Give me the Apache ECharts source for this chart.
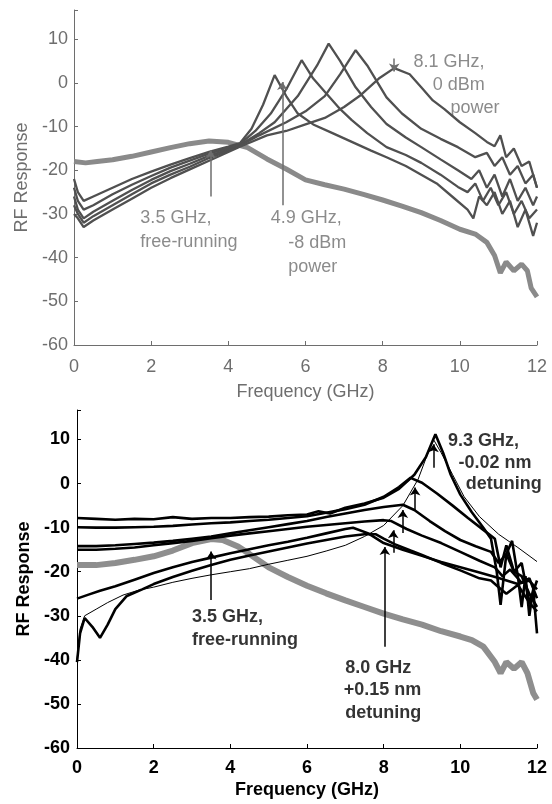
<!DOCTYPE html>
<html>
<head>
<meta charset="utf-8">
<script src="https://cdn.jsdelivr.net/npm/echarts@6/dist/echarts.min.js"></script>
<style>html,body{margin:0;background:#fff}#main{width:552px;height:804px}</style>
</head>
<body>
<div id="main"></div>
<script>
// x ticks (GHz) and y ticks, shared by both panels
var freqTicks = [0, 2, 4, 6, 8, 10, 12];
var respTicks = [-60, -50, -40, -30, -20, -10, 0, 10];

// ---- top panel: injection power sweep ----
var topFree = [[0,-18],[0.3,-18.3],[0.6,-18],[1,-17.6],[1.5,-16.8],[2,-15.8],[2.5,-14.8],[3,-13.9],[3.5,-13.3],[4,-13.6],[4.5,-14.8],[5,-17.4],[5.5,-19.7],[6,-22.2],[6.5,-23.3],[7,-24.3],[7.5,-25.5],[8,-26.8],[8.5,-28.2],[9,-29.7],[9.5,-31.5],[10,-33.5],[10.4,-34.6],[10.7,-36.5],[10.9,-39.5],[11.05,-43.5],[11.2,-41],[11.4,-43],[11.6,-41.5],[11.75,-43],[11.85,-47],[12,-49]];
var topP1 = [[0,-22],[0.1,-25],[0.25,-27],[0.5,-26],[1,-24],[1.5,-22],[2,-20.3],[2.5,-18.7],[3,-17.2],[3.5,-15.8],[4,-14.6],[4.3,-13.8],[4.6,-10.5],[4.9,-5],[5.2,1.8],[5.5,-3],[5.8,-7],[6.2,-9.5],[6.7,-11.5],[7.2,-13.5],[7.7,-15.5],[8.1,-17],[8.6,-19],[9,-21],[9.4,-23],[9.8,-26],[10.2,-29],[10.35,-31],[10.5,-26],[10.7,-28],[10.9,-25],[11.1,-30],[11.3,-27],[11.5,-33],[11.7,-29],[11.9,-35],[12,-32]];
var topP2 = [[0,-24],[0.1,-27],[0.25,-29],[0.5,-28],[1,-25.5],[1.5,-23.3],[2,-21.3],[2.5,-19.4],[3,-17.8],[3.5,-16.2],[4,-14.9],[4.3,-14],[4.7,-11],[5.1,-7],[5.5,-1.5],[5.9,5.2],[6.2,1],[6.5,-2],[6.9,-6],[7.2,-8.5],[7.6,-11.5],[8.1,-14.7],[8.6,-16.5],[9,-18.3],[9.5,-21],[9.95,-23.8],[10.2,-25],[10.4,-23],[10.6,-27],[10.8,-24],[11,-28],[11.2,-25],[11.4,-30],[11.6,-27],[11.8,-31],[12,-29]];
var topP3 = [[0,-26],[0.1,-29],[0.25,-31],[0.5,-29.5],[1,-27],[1.5,-24.5],[2,-22.2],[2.5,-20.2],[3,-18.5],[3.5,-16.7],[4,-15.2],[4.3,-14.2],[4.8,-11.5],[5.2,-9],[5.8,-3],[6.3,4],[6.6,9],[6.9,5],[7.3,-1],[7.7,-5.5],[8.1,-9.4],[8.6,-12.5],[9,-14.7],[9.5,-17.5],[9.95,-20],[10.3,-22],[10.5,-20],[10.7,-24],[10.9,-21],[11.1,-26],[11.3,-22],[11.5,-27],[11.7,-24],[11.9,-28],[12,-26]];
var topP4 = [[0,-28],[0.1,-30],[0.25,-32],[0.5,-30.5],[1,-28],[1.5,-25.5],[2,-23],[2.5,-21],[3,-19.2],[3.5,-17.2],[4,-15.5],[4.3,-14.4],[4.8,-12],[5.5,-9],[6,-6.5],[6.5,-3],[6.9,2],[7.3,7.5],[7.6,4],[8.1,-3.3],[8.5,-7],[9,-10.5],[9.5,-12.8],[9.95,-14.7],[10.4,-17],[10.7,-16],[10.9,-19],[11.1,-17],[11.3,-21],[11.5,-19],[11.7,-23],[11.9,-21],[12,-24]];
var topP5 = [[0,-30],[0.1,-31],[0.25,-33],[0.5,-31.5],[1,-29],[1.5,-26.5],[2,-24],[2.5,-21.8],[3,-19.8],[3.5,-17.8],[4,-15.8],[4.3,-14.6],[5,-12],[5.5,-11],[6,-9.5],[6.5,-8],[7,-5.5],[7.4,-3],[7.9,1],[8.3,3.4],[8.7,2],[9,-1],[9.3,-4],[9.6,-6],[10,-9],[10.4,-11.5],[10.7,-13.5],[10.9,-14.5],[11.05,-12],[11.2,-17],[11.4,-15],[11.6,-19],[11.8,-18],[12,-24]];

var topLabels = [[1.72,-31,'3.5 GHz,'],[1.72,-36.4,'free-running'],[5.1,-31,'4.9 GHz,'],[5.55,-36.7,'-8 dBm'],[5.55,-42.2,'power'],[8.8,4.8,'8.1 GHz,'],[9.3,-0.5,'0 dBm'],[9.76,-5.8,'power']];
var topArrows = [[3.54,-26,3.54,-15.4],[5.4,-28,5.4,0.2],[8.3,5.6,8.3,2.6]];

// ---- bottom panel: detuning sweep ----
var botFree = [[0,-18.5],[0.5,-18.5],[1,-18],[1.5,-17.3],[2,-16.5],[2.5,-15.2],[3,-13.5],[3.5,-12.6],[3.8,-12.8],[4.2,-14.3],[4.5,-16],[5,-19],[5.5,-21.2],[6,-23.2],[6.5,-24.9],[7,-26.5],[7.5,-28],[8,-29.5],[8.5,-30.8],[9,-32],[9.5,-33.5],[10,-34.7],[10.3,-35.5],[10.6,-37],[10.9,-40.5],[11.05,-43],[11.2,-40.5],[11.4,-42],[11.6,-40.5],[11.75,-43],[11.9,-47.5],[12,-49]];
var botD1 = [[0,-7.8],[0.5,-8],[1,-8.2],[1.5,-8],[2,-8.1],[2.5,-7.6],[3,-8],[3.5,-7.8],[4,-7.8],[4.5,-7.6],[5,-7.5],[5.5,-7.2],[6,-7],[6.3,-6.3],[6.6,-6.8],[7,-5.5],[7.5,-4.5],[8,-3.2],[8.4,-1.2],[8.8,2],[9.1,6],[9.35,11.2],[9.55,7],[9.75,2],[10,-2.5],[10.3,-6.5],[10.6,-10],[10.8,-12.5],[10.95,-20],[11.05,-27.5],[11.2,-16],[11.35,-13],[11.5,-21],[11.6,-28],[11.7,-21],[11.8,-30],[11.9,-24],[12,-34]];
var botD2 = [[0,-9.9],[0.5,-10],[1,-10],[1.5,-9.9],[2,-9.8],[2.5,-9.6],[3,-9.3],[3.5,-9],[4,-8.8],[4.5,-8.5],[5,-8.2],[5.5,-7.8],[6,-7.4],[6.5,-6.6],[7,-5.8],[7.5,-4.8],[8,-3],[8.4,-0.8],[8.7,1.3],[9,0.2],[9.4,-2.3],[9.8,-5],[10.2,-7.8],[10.6,-10.5],[10.9,-12.5],[11.05,-19],[11.2,-14],[11.4,-20],[11.6,-18],[11.8,-27],[12,-22]];
var botD3 = [[0,-14.2],[0.5,-14.2],[1,-14],[1.5,-13.7],[2,-13.4],[2.5,-13],[3,-12.5],[3.5,-12],[4,-11.3],[4.5,-10.6],[5,-9.9],[5.5,-9.2],[6,-8.5],[6.5,-7.6],[7,-6.8],[7.5,-6],[8,-5.3],[8.5,-4.8],[8.8,-6],[9.2,-8.5],[9.6,-10.8],[10,-12.8],[10.4,-14.2],[10.8,-15.5],[11,-18],[11.2,-16],[11.4,-20],[11.6,-21],[11.8,-25],[12,-28]];
var botD4 = [[0,-15],[0.5,-15],[1,-14.8],[1.5,-14.5],[2,-14],[2.5,-13.5],[3,-13],[3.5,-12.4],[4,-11.8],[4.5,-11.3],[5,-10.8],[5.5,-10.3],[6,-9.8],[6.5,-9.4],[7,-9],[7.5,-8.6],[8,-8.3],[8.2,-8.5],[8.6,-10.3],[9,-11.8],[9.5,-13.5],[10,-15.5],[10.5,-17.5],[10.9,-19],[11.1,-21],[11.3,-19.5],[11.6,-22.5],[11.8,-21.5],[12,-26]];
var botD5 = [[0,-26.1],[0.3,-25.2],[0.6,-24.3],[1,-23.3],[1.5,-21.8],[2,-20.3],[2.5,-19],[3,-17.8],[3.5,-16.8],[4,-15.8],[4.5,-14.9],[5,-14],[5.5,-13.2],[6,-12.3],[6.5,-11.3],[7,-10.3],[7.2,-10],[7.6,-11.3],[8,-13.5],[8.5,-15],[9,-16.4],[9.5,-17.8],[10,-19],[10.5,-20.2],[11,-21.4],[11.5,-22.8],[11.8,-22],[12,-24]];
var botD6 = [[0,-40],[0.08,-33],[0.2,-30],[0.5,-28.5],[0.8,-27],[1.2,-25.3],[1.6,-24.2],[2,-23.5],[2.5,-22.4],[3,-21.5],[3.5,-20.7],[4,-20],[4.5,-19.3],[5,-18.3],[5.5,-17.4],[6,-16.5],[6.5,-15.3],[7,-14],[7.5,-12],[8,-9.5],[8.5,-5],[8.9,1],[9.2,8],[9.3,10],[9.5,7],[9.8,2],[10.1,-3],[10.5,-7.5],[11,-11.5],[11.5,-14.5],[12,-17.7]];
var botD7 = [[0,-40.5],[0.08,-34],[0.2,-30.5],[0.4,-32.5],[0.6,-35],[0.8,-32],[1,-28.5],[1.3,-25.5],[1.7,-24],[2,-22.8],[2.5,-21.2],[3,-19.8],[3.5,-18.5],[4,-17.3],[4.5,-16.3],[5,-15.4],[5.5,-14.5],[6,-13.6],[6.5,-12.8],[7,-12],[7.5,-11.5],[7.8,-11.5],[8,-12.5],[8.3,-13.8],[8.7,-15.2],[9,-16.2],[9.5,-18],[10,-19.7],[10.5,-21.5],[10.8,-22],[11,-23.5],[11.2,-25],[11.5,-23],[11.8,-27],[12,-29]];

var botLabels = [[3.0,-30.2,'3.5 GHz,'],[3.0,-35.5,'free-running'],[7.0,-41.8,'8.0 GHz'],[6.96,-46.9,'+0.15 nm'],[7.0,-52,'detuning'],[9.68,9.6,'9.3 GHz,'],[9.95,4.7,'-0.02 nm'],[10.14,-0.2,'detuning']];
var botArrows = [[3.5,-26.4,3.5,-15.4],[8.03,-37,8.03,-14.4],[8.25,-15.7,8.25,-10.6],[8.5,-11.2,8.5,-6],[8.82,-6,8.82,-0.9],[9.3,3.6,9.3,8.9]];

var chart = echarts.init(document.getElementById('main'));

function yFmt(v) { return respTicks.indexOf(v) >= 0 ? v : ''; }

function line(data, idx, color, width) {
    return {
        type: 'line', xAxisIndex: idx, yAxisIndex: idx, data: data,
        showSymbol: false, symbol: 'none', silent: true,
        lineStyle: {color: color, width: width}
    };
}

function notes(labels, arrows, idx, color, weight) {
    return {
        type: 'scatter', xAxisIndex: idx, yAxisIndex: idx, symbolSize: 0, silent: true,
        data: labels.map(function (l) { return {value: [l[0], l[1]], name: l[2]}; }),
        label: {
            show: true, formatter: '{b}', position: [0, 0], align: 'left', verticalAlign: 'middle',
            color: color, fontSize: 18, fontWeight: weight, fontFamily: 'Liberation Sans, Arial, sans-serif'
        },
        markLine: {
            silent: true, symbol: ['none', 'arrow'], symbolSize: 8,
            lineStyle: {color: color, width: 1.5, type: 'solid'},
            label: {show: false},
            data: arrows.map(function (a) { return [{coord: [a[0], a[1]]}, {coord: [a[2], a[3]]}]; })
        }
    };
}

function xAx(idx, color, weight, margin, gap) {
    return {
        gridIndex: idx, type: 'value', min: 0, max: 12, interval: 2,
        name: 'Frequency (GHz)', nameLocation: 'middle', nameGap: gap,
        nameTextStyle: {color: color, fontSize: 18, fontWeight: weight, fontFamily: 'Liberation Sans, Arial, sans-serif'},
        axisLine: {onZero: false, lineStyle: {color: color, width: 1}},
        axisTick: {inside: true, length: 4, lineStyle: {color: color}},
        axisLabel: {color: color, fontSize: 18, fontWeight: weight, margin: margin, fontFamily: 'Liberation Sans, Arial, sans-serif'},
        splitLine: {show: false}
    };
}

function yAx(idx, color, weight, margin) {
    return {
        gridIndex: idx, type: 'value', min: -60, max: 16.7, interval: 10,
        name: 'RF Response', nameLocation: 'middle', nameGap: 39,
        nameTextStyle: {color: color, fontSize: 18, fontWeight: weight, fontFamily: 'Liberation Sans, Arial, sans-serif'},
        axisLine: {show: true, onZero: false, lineStyle: {color: color, width: 1}},
        axisTick: {inside: true, length: 4, lineStyle: {color: color}},
        axisLabel: {color: color, fontSize: 18, fontWeight: weight, margin: margin, formatter: yFmt, fontFamily: 'Liberation Sans, Arial, sans-serif'},
        splitLine: {show: false}
    };
}

var topGray = '#6e6e6e';
var option = {
    animation: false,
    grid: [
        {left: 74, width: 463, top: 10, height: 335},
        {left: 77, width: 460, top: 410, height: 338}
    ],
    xAxis: [xAx(0, topGray, 'normal', 13, 38), xAx(1, '#000', 'bold', 11, 33)],
    yAxis: [yAx(0, topGray, 'normal', 6), yAx(1, '#000', 'bold', 7)],
    series: [
        line(topFree, 0, '#8a8a8a', 5),
        line(topP1, 0, '#505050', 2.3),
        line(topP2, 0, '#505050', 2.3),
        line(topP3, 0, '#505050', 2.3),
        line(topP4, 0, '#505050', 2.3),
        line(topP5, 0, '#505050', 2.3),
        notes(topLabels, topArrows, 0, topGray, 'normal'),
        line(botFree, 1, '#8e8e8e', 6),
        line(botD1, 1, '#000', 2.6),
        line(botD2, 1, '#000', 2.6),
        line(botD3, 1, '#000', 2.6),
        line(botD4, 1, '#000', 2.6),
        line(botD5, 1, '#000', 2.6),
        line(botD6, 1, '#000', 1),
        line(botD7, 1, '#000', 2.6),
        notes(botLabels, botArrows, 1, '#000', 'bold')
    ]
};
chart.setOption(option);
</script>
</body>
</html>
